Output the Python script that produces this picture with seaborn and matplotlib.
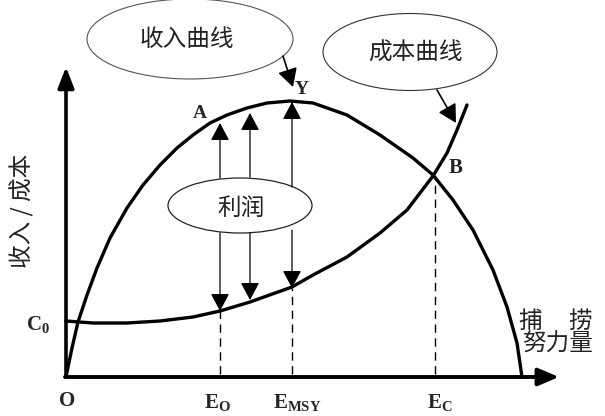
import numpy as np
import pandas as pd
import seaborn as sns
import matplotlib.pyplot as plt
from matplotlib.patches import Ellipse

# Schematic values, origin at O (effort to the right, money upward)
rev_effort = [0, 1, 6, 12, 21, 31, 44, 61, 77, 94, 111, 127, 144, 161, 181, 201, 224,
              247, 281, 314, 347, 367, 387, 407, 427, 441, 451, 456]
rev_value = [0, 5, 29, 55, 82, 109, 139, 169, 192, 212, 229, 242, 254, 262, 269, 274, 276,
             274, 262, 242, 219, 202, 177, 147, 107, 70, 34, 0]
cost_effort = [0, 27, 61, 94, 127, 154, 184, 226, 247, 281, 314, 341, 367, 381, 391, 401]
cost_value = [56, 54, 54, 56, 60, 66, 75, 90, 102, 120, 144, 167, 201, 224, 247, 272]

# effort levels marked on the x axis
mark_names = [r'$\mathbf{E}_{\mathbf{O}}$', r'$\mathbf{E}_{\mathbf{MSY}}$', r'$\mathbf{E}_{\mathbf{C}}$']
mark_effort = [154, 226, 369]
mark_top = [66, 89, 201]

# profit arrows: effort, revenue at tip, cost at tip, ellipse top/bottom
profit_effort = [154, 184, 226]
profit_rev = [254, 264, 275]
profit_cost = [66, 77, 89]
profit_from_top = [199, 200, 190]
profit_from_bot = [144, 144, 147]

sns.set_theme(style='white')
plt.rcParams['font.family'] = ['Noto Sans CJK SC', 'DejaVu Sans']
plt.rcParams['mathtext.fontset'] = 'custom'
plt.rcParams['mathtext.bf'] = 'Liberation Serif:bold'
plt.rcParams['mathtext.rm'] = 'Liberation Serif'

fig = plt.figure(figsize=(6.05, 4.16), dpi=100)
ax = fig.add_axes([0, 0, 1, 1])
ax.set_xlim(-66, 539)
ax.set_ylim(-39, 377)
ax.axis('off')

rev = pd.DataFrame({'effort': rev_effort, 'value': rev_value})
cost = pd.DataFrame({'effort': cost_effort, 'value': cost_value})
sns.lineplot(data=rev, x='effort', y='value', ax=ax, color='black', lw=2.4, sort=False)
sns.lineplot(data=cost, x='effort', y='value', ax=ax, color='black', lw=2.4, sort=False)

# axes with arrow heads
ax.annotate('', xy=(0, 310), xytext=(0, 0),
            arrowprops=dict(arrowstyle='-|>,head_length=0.9,head_width=0.35', color='black', lw=2.6,
                            shrinkA=0, shrinkB=0, mutation_scale=14))
ax.annotate('', xy=(493, 0), xytext=(-1, 0),
            arrowprops=dict(arrowstyle='-|>,head_length=0.9,head_width=0.38', color='black', lw=2.8,
                            shrinkA=0, shrinkB=0, mutation_scale=14))

# dashed drop lines
ax.vlines(mark_effort, 3, mark_top, colors='black', lw=1, linestyles=(0, (6, 4)))

# profit arrows
for x, yt, yb, y1, y2 in zip(profit_effort, profit_rev, profit_cost, profit_from_top, profit_from_bot):
    ax.annotate('', xy=(x, yt), xytext=(x, y1),
                arrowprops=dict(arrowstyle='-|>,head_length=0.6,head_width=0.32', color='black', lw=0.9,
                                shrinkA=0, shrinkB=0, mutation_scale=18))
    ax.annotate('', xy=(x, yb), xytext=(x, y2),
                arrowprops=dict(arrowstyle='-|>,head_length=0.6,head_width=0.32', color='black', lw=0.9,
                                shrinkA=0, shrinkB=0, mutation_scale=18))

# callout ellipses
ax.add_patch(Ellipse((124, 338), 206, 80, fill=False, ec='#555555', lw=0.8))
ax.add_patch(Ellipse((344, 325), 174, 77, fill=False, ec='#333333', lw=0.8))
ax.add_patch(Ellipse((174, 171.5), 144, 55, fill=False, ec='#222222', lw=0.9))
ax.text(121, 337, '收入曲线', fontsize=17, ha='center', va='center', color='#222222')
ax.text(349, 324, '成本曲线', fontsize=17, ha='center', va='center', color='#222222')
ax.text(175, 169, '利润', fontsize=17, ha='center', va='center', color='#222222')

ax.annotate('', xy=(227, 290), xytext=(217, 321),
            arrowprops=dict(arrowstyle='-|>,head_length=0.55,head_width=0.3', color='black', lw=1.2,
                            shrinkA=0, shrinkB=0, mutation_scale=20))
ax.annotate('', xy=(390, 254), xytext=(371, 287),
            arrowprops=dict(arrowstyle='-|>,head_length=0.55,head_width=0.3', color='black', lw=1.2,
                            shrinkA=0, shrinkB=0, mutation_scale=20))

# point labels
serif = 'Liberation Serif'
ax.text(134, 264, 'A', family=serif, weight='bold', fontsize=14, ha='center', va='center')
ax.text(236, 288, 'Y', family=serif, weight='bold', fontsize=14, ha='center', va='center')
ax.text(390, 209, 'B', family=serif, weight='bold', fontsize=15, ha='center', va='center')
ax.text(1, -24, 'O', family=serif, weight='bold', fontsize=15, ha='center', va='center')
ax.text(-28, 52, r'$\mathbf{C}_{\mathbf{0}}$', fontsize=15, ha='center', va='center')
for name, x in zip(mark_names, [151, 231, 374]):
    ax.text(x, -26, name, fontsize=15, ha='center', va='center')

ax.text(-44, 166, '收入 / 成本', fontsize=17, rotation=90, ha='center', va='center', color='#222222')
ax.text(464, 56, '捕', fontsize=17, ha='center', va='center', color='#222222')
ax.text(514, 56, '捞', fontsize=17, ha='center', va='center', color='#222222')
ax.text(491, 33, '努力量', fontsize=17, ha='center', va='center', color='#222222')

plt.savefig('out.png', dpi=100)
plt.close()
